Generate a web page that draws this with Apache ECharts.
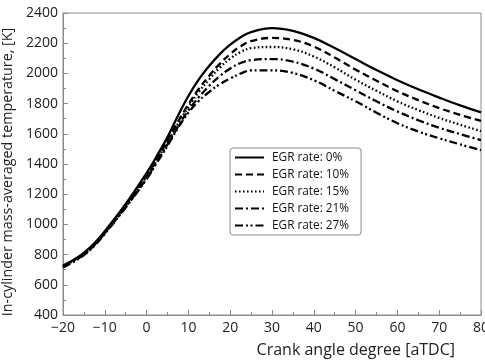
<!DOCTYPE html>
<html>
<head>
<meta charset="utf-8">
<script src="https://cdn.jsdelivr.net/npm/echarts@6/dist/echarts.min.js"></script>
<style>html,body{margin:0;padding:0;background:#fff}#c{width:485px;height:363px}</style>
</head>
<body>
<div id="c"></div>
<script>
var crankAngle = [-20, -17.5, -15, -12.5, -10, -5, 0, 2.5, 5, 7.5, 10, 12.5, 15, 17.5, 20, 22.5, 25, 30, 35, 40, 45, 50, 55, 60, 65, 70, 75, 80];
var egr0  = [728, 765, 812, 875, 955, 1135, 1340, 1455, 1578, 1720, 1850, 1960, 2050, 2128, 2190, 2240, 2274, 2300, 2282, 2235, 2168, 2095, 2022, 1955, 1895, 1840, 1788, 1742];
var egr10 = [724, 761, 807, 870, 949, 1127, 1325, 1438, 1555, 1680, 1795, 1898, 1985, 2063, 2128, 2180, 2214, 2235, 2222, 2178, 2105, 2025, 1952, 1882, 1823, 1770, 1725, 1685];
var egr15 = [721, 758, 804, 866, 945, 1121, 1315, 1428, 1545, 1665, 1778, 1878, 1962, 2038, 2098, 2142, 2167, 2175, 2160, 2112, 2040, 1958, 1885, 1815, 1757, 1705, 1660, 1618];
var egr21 = [718, 755, 800, 862, 941, 1116, 1305, 1418, 1530, 1648, 1755, 1843, 1918, 1982, 2033, 2069, 2088, 2095, 2078, 2032, 1962, 1888, 1815, 1748, 1690, 1640, 1598, 1558];
var egr27 = [715, 752, 797, 858, 937, 1112, 1300, 1410, 1520, 1638, 1740, 1818, 1878, 1928, 1966, 1999, 2020, 2020, 2003, 1955, 1885, 1815, 1740, 1670, 1615, 1570, 1530, 1492];
var seriesNames = ['EGR rate: 0%', 'EGR rate: 10%', 'EGR rate: 15%', 'EGR rate: 21%', 'EGR rate: 27%'];
var xTicks = [-20, -10, 0, 10, 20, 30, 40, 50, 60, 70, 80];
var yTicks = [400, 600, 800, 1000, 1200, 1400, 1600, 1800, 2000, 2200, 2400];

var allValues = [egr0, egr10, egr15, egr21, egr27];
var dashes = ['solid', [7, 4], [1.6, 2.4], [8, 3, 2, 3], [8, 3, 2, 2.5, 2, 3]];
var FONT = '"Open Sans", "Noto Sans", sans-serif';

function pairs(vals) {
  return crankAngle.map(function (x, i) { return [x, vals[i]]; });
}
function minus(v) { return v < 0 ? '\u2212' + (-v) : String(v); }

var chart = echarts.init(document.getElementById('c'), null, {renderer: 'canvas'});
chart.setOption({
  animation: false,
  backgroundColor: '#fff',
  grid: {left: 63, right: 4, top: 13, bottom: 48, containLabel: false, outerBoundsMode: 'none',
         show: true, borderColor: '#8a8a8a', borderWidth: 1},
  xAxis: {
    type: 'value', min: xTicks[0], max: xTicks[xTicks.length - 1], interval: 10,
    name: 'Crank angle degree [aTDC]', nameLocation: 'end', nameGap: -26,
    nameTextStyle: {fontFamily: FONT, fontSize: 16, color: '#222', align: 'right', verticalAlign: 'top', padding: [27, 0, 0, 0]},
    axisLine: {onZero: false, lineStyle: {color: '#8a8a8a', width: 1}},
    axisTick: {inside: true, length: 5, lineStyle: {color: '#8a8a8a'}},
    minorTick: {show: true, splitNumber: 2, length: 3, lineStyle: {color: '#8a8a8a'}},
    axisLabel: {fontFamily: FONT, fontSize: 14, color: '#222', margin: 6, formatter: minus},
    splitLine: {show: false}
  },
  yAxis: {
    type: 'value', min: yTicks[0], max: yTicks[yTicks.length - 1], interval: 200,
    name: 'In-cylinder mass-averaged temperature, [K]', nameLocation: 'middle', nameGap: 39,
    nameTextStyle: {fontFamily: FONT, fontSize: 14.3, color: '#222', padding: [0, 16, 0, 0]},
    axisLine: {onZero: false, lineStyle: {color: '#8a8a8a', width: 1}},
    axisTick: {inside: true, length: 5, lineStyle: {color: '#8a8a8a'}},
    minorTick: {show: true, splitNumber: 2, length: 3, lineStyle: {color: '#8a8a8a'}},
    axisLabel: {fontFamily: FONT, fontSize: 14, color: '#222', margin: 5, formatter: function (v) { return String(v); }},
    splitLine: {show: false}
  },
  legend: {
    orient: 'vertical', left: 230, top: 148,
    padding: [3, 12, 3, 4],
    itemWidth: 29, itemHeight: 10, itemGap: 4,
    borderColor: '#8a8a8a', borderWidth: 1, borderRadius: 3,
    backgroundColor: '#fff',
    itemStyle: {opacity: 0},
    textStyle: {fontFamily: FONT, fontSize: 11.8, color: '#111', lineHeight: 13, padding: [0, 0, 0, 3]},
    data: seriesNames
  },
  series: allValues.map(function (vals, i) {
    return {
      name: seriesNames[i], type: 'line', data: pairs(vals), smooth: 0.4,
      symbol: 'none', showSymbol: false,
      lineStyle: {color: '#000', width: 2.3, type: dashes[i], cap: 'butt'},
      itemStyle: {color: '#000'}
    };
  })
});
</script>
</body>
</html>
